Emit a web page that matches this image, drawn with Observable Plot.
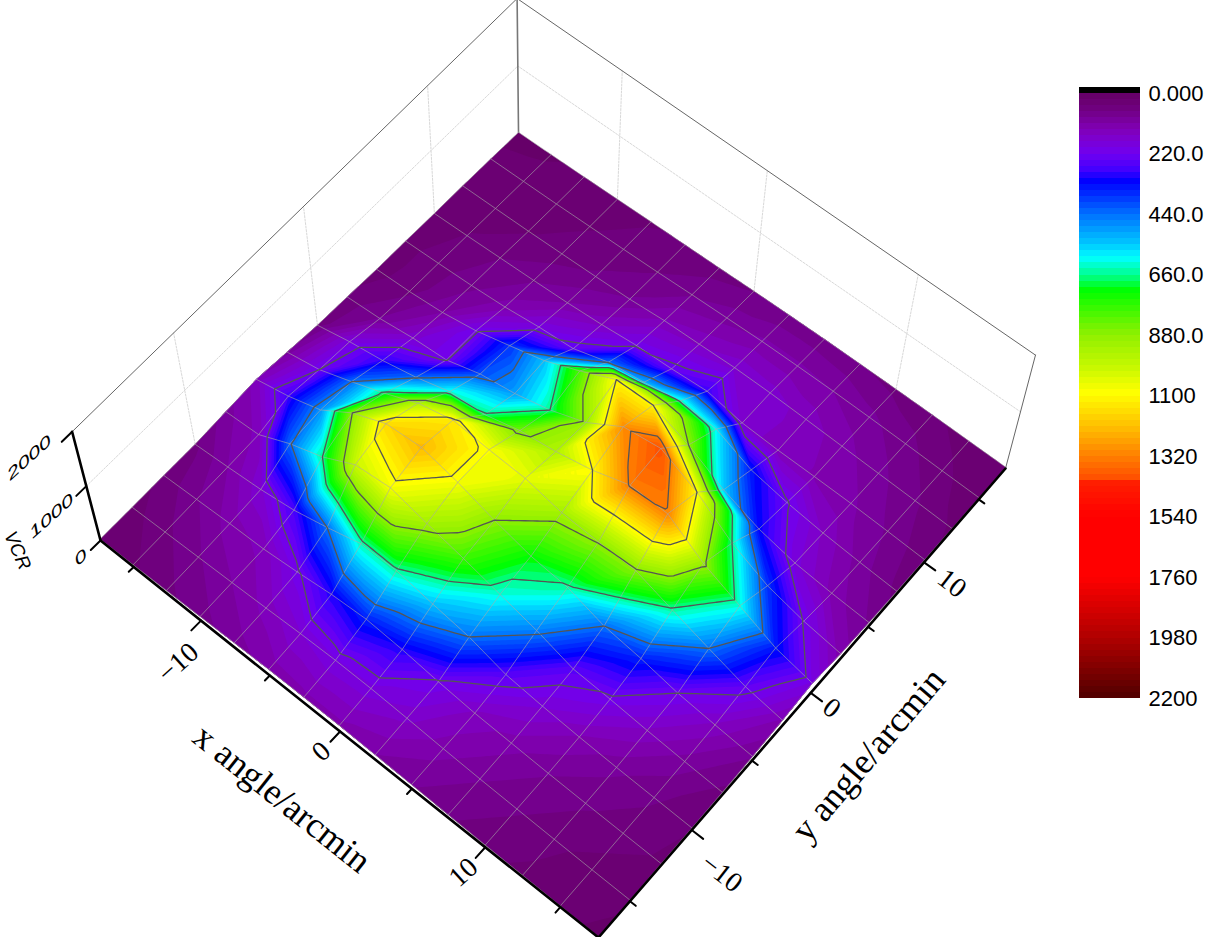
<!DOCTYPE html>
<html><head><meta charset="utf-8">
<script src="https://cdn.jsdelivr.net/npm/d3@7"></script>
<script src="https://cdn.jsdelivr.net/npm/@observablehq/plot@0.6"></script>
<style>
html,body{margin:0;padding:0;background:#fff}
#wrap{position:relative;width:1205px;height:937px;overflow:hidden}
#wrap svg{position:absolute;left:0;top:0;background:transparent}
</style></head><body><div id="wrap"></div>
<script>
// ---------- data: grid of VCR values, one row per y angle, columns along x angle ----------
const xAngles = d3.range(-17.5, 17.6, 2.5);
const yAngles = d3.range(-17.5, 17.6, 2.5);
const rowY00 = [25,40,60,80,100,120,125,125,110,90,70,50,40,28,18];
const rowY01 = [35,60,85,110,140,175,195,190,160,120,90,70,50,35,25];
const rowY02 = [50,85,120,140,210,300,350,300,215,150,120,90,70,55,40];
const rowY03 = [60,110,170,270,440,640,650,540,440,250,180,130,95,70,45];
const rowY04 = [100,140,430,660,1000,1075,920,780,620,460,250,210,150,100,60];
const rowY05 = [140,280,480,880,1160,1220,1075,880,720,650,440,350,220,150,90];
const rowY06 = [100,220,440,680,960,1130,1080,1050,920,885,870,650,440,240,130];
const rowY07 = [60,190,290,430,620,670,850,950,1100,1330,1315,900,620,340,195];
const rowY08 = [50,90,170,215,400,500,660,900,1300,1400,1100,660,370,215,120];
const rowY09 = [35,60,110,210,370,540,800,1100,1110,880,550,320,185,125,85];
const rowY10 = [35,55,80,120,190,240,430,520,640,600,340,225,150,100,60];
const rowY11 = [30,45,65,85,110,150,210,235,280,170,140,130,115,85,50];
const rowY12 = [30,35,42,55,70,90,135,150,170,165,145,120,95,70,40];
const rowY13 = [25,28,32,42,52,65,85,100,115,115,110,95,75,50,30];
const rowY14 = [18,20,26,34,42,48,55,65,70,72,68,60,50,35,22];
const vcr = [rowY00,rowY01,rowY02,rowY03,rowY04,rowY05,rowY06,rowY07,rowY08,rowY09,rowY10,rowY11,rowY12,rowY13,rowY14];

const contourLevels = [220,440,660,880,1100,1320];
const xTicks = [-15,-10,-5,0,5,10,15];
const yTicks = [-15,-10,-5,0,5,10,15];
const zTicks = [0,1000,2000];
const legendTicks = [0,220,440,660,880,1100,1320,1540,1760,1980,2200];
const legendLabels = ["0.000","220.0","440.0","660.0","880.0","1100","1320","1540","1760","1980","2200"];
const colorStops = [0,60,130,170,220,280,320,440,550,600,660,716,880,1000,1090,1210,1320,1400,1410,1540,1760,1980,2200];
const colorValues = ["#640064","#700080","#8000b4","#7c00d0","#7000f0","#4000ff","#0000ff","#0070ff","#00c8ff","#00ffff","#00ff90","#00ff00","#90f000","#c8f800","#ffff00","#ffc000","#ff8000","#ff5000","#ff2000","#ff0000","#ff0000","#b00000","#500000"];
const bandStep = 22;

// ---------- camera: floor homography + lift towards the nadir ----------
const xMin=-17.5,xMax=17.5,yMin=-17.5,yMax=17.5,zMax=2000;
const H={a:454.5,b:461.2,c:100,d:328.9,e:-395.9,f:540,g:-0.07268,h:0.08333};
const nadir=[540,2226], liftK=0.0645;
function project3(x,y,z=0){
  const s=(x-xMin)/(xMax-xMin), t=(y-yMin)/(yMax-yMin);
  const D=H.g*s+H.h*t+1;
  const px=(H.a*s+H.b*t+H.c)/D, py=(H.d*s+H.e*t+H.f)/D;
  const m=1+liftK*z/zMax;
  return [nadir[0]+(px-nadir[0])*m, nadir[1]+(py-nadir[1])*m];
}
const camera=d3.geoTransform({point(x,y,z){const p=project3(x,y,z||0);this.stream.point(p[0],p[1]);}});

// ---------- surface: triangulated grid; high cells split along the ridge, slopes along the closest values ----------
const step=2.5, up=10, M=14*up+1;
function surf(x,y){
  const u=Math.max(0,Math.min(14,(x-xMin)/step)), v=Math.max(0,Math.min(14,(y-yMin)/step));
  const i=Math.min(13,Math.floor(u)), j=Math.min(13,Math.floor(v));
  const a=u-i,b=v-j;
  const v00=vcr[j][i],v10=vcr[j][i+1],v01=vcr[j+1][i],v11=vcr[j+1][i+1];
  const high=Math.max(v00,v10,v01,v11)>=1000;
  const mainDiag=high ? v00+v11>=v10+v01 : Math.abs(v00-v11)<=Math.abs(v10-v01);
  if(mainDiag) return a>=b ? v00+a*(v10-v00)+b*(v11-v10) : v00+b*(v01-v00)+a*(v11-v01);
  return a+b<=1 ? v00+a*(v10-v00)+b*(v01-v00) : v11+(1-a)*(v01-v11)+(1-b)*(v10-v11);
}
const field=new Float64Array(M*M);
for(let r=0;r<M;r++)for(let c=0;c<M;c++)field[r*M+c]=surf(xMin+c*step/up,yMin+r*step/up);
function lift3(coord){
  const x=xMin+Math.max(0,Math.min(M-1,coord[0]-.5))*step/up;
  const y=yMin+Math.max(0,Math.min(M-1,coord[1]-.5))*step/up;
  return [x,y,surf(x,y)];
}
function contoursAt(levels){
  return d3.contours().size([M,M]).thresholds(levels)(field).map(g=>({
    type:"MultiPolygon",value:g.value,
    coordinates:g.coordinates.map(poly=>poly.map(ring=>ring.map(lift3)))
  }));
}
const bandLevels=d3.range(0,2200,bandStep);
const bands=contoursAt(bandLevels);
const isolines=contoursAt(contourLevels);

const line=(...pts)=>({type:"LineString",coordinates:pts});
const gridLines=[
  ...xAngles.map((x,i)=>line(...yAngles.map((y,j)=>[x,y,vcr[j][i]]))),
  ...yAngles.map((y,j)=>line(...xAngles.map((x,i)=>[x,y,vcr[j][i]])))
];
const wallGuides=[
  line([xMin,yMin,1000],[xMin,yMax,1000],[xMax,yMax,1000]),
  ...[-10,0,10].map(y=>line([xMin,y,0],[xMin,y,zMax])),
  ...[-10,0,10].map(x=>line([x,yMax,0],[x,yMax,zMax]))
];
const wallFrame=[
  line([xMin,yMin,zMax],[xMin,yMax,zMax],[xMax,yMax,zMax]),
  line([xMax,yMax,0],[xMax,yMax,zMax])
];
const cornerPost=[line([xMin,yMax,0],[xMin,yMax,zMax])];
const axisLines=[
  line([xMin,yMin,0],[xMax,yMin,0]),
  line([xMax,yMin,0],[xMax,yMax,0]),
  line([xMin,yMin,0],[xMin,yMin,zMax])
];
const isMajor=v=>v%10===0;
const tickLines=[
  ...xTicks.map(x=>line([x,yMin,0],[x,yMin-(isMajor(x)?.75:.38),0])),
  ...yTicks.map(y=>line([xMax,y,0],[xMax+(isMajor(y)?.75:.38),y,0])),
  ...zTicks.map(z=>line([xMin,yMin,z],[xMin,yMin-.75,z]))
];

const colorOpts={type:"linear",domain:colorStops,range:colorValues,interpolate:"rgb",clamp:true};
const serif="Liberation Serif", sans="Liberation Sans";
const base=project3(xMin,yMin,0);

const xLabelMarks=[[-10,"\u221210",-23,42],[0,"0",-19,20],[10,"10",-22,25]].map(([x,t,dx,dy])=>
  Plot.text([x],{x:d=>d,y:()=>yMin,text:()=>t,dx,dy,rotate:-42,fontFamily:serif,fontSize:28,fill:"#000"}));
const yLabelMarks=[[-10,"\u221210",30,43],[0,"0",21,15],[10,"10",28,21]].map(([y,t,dx,dy])=>
  Plot.text([y],{x:()=>xMax,y:d=>d,text:()=>t,dx,dy,rotate:38,fontFamily:serif,fontSize:28,fill:"#000"}));
const zLabelMarks=[[0,"0",-20,17],[1000,"1000",-35,30],[2000,"2000",-43,26]].map(([z,t,dx,dy])=>{
  const p=project3(xMin,yMin,z);
  return Plot.text([z],{x:()=>xMin,y:()=>yMin,text:()=>t,dx:p[0]-base[0]+dx,dy:p[1]-base[1]+dy,rotate:-42,
    fontFamily:sans,fontSize:17,fontStyle:"italic",fill:"#000",className:"ztick"});
});

const main=Plot.plot({
  width:1205,height:937,margin:0,
  projection:camera,
  color:colorOpts,
  marks:[
    Plot.geo(wallGuides,{stroke:"#d8d8d8",strokeWidth:1,strokeDasharray:"2,1.5"}),
    Plot.geo(wallFrame,{stroke:"#666",strokeWidth:1}),
    Plot.geo(cornerPost,{stroke:"#777",strokeWidth:1.6}),
    Plot.geo(bands,{fill:d=>d.value+bandStep/2,stroke:"none"}),
    Plot.geo(gridLines,{stroke:"#a8a8a8",strokeWidth:1,strokeOpacity:.6}),
    Plot.geo(isolines,{stroke:"#555",strokeWidth:1.3,fill:"none"}),
    Plot.geo(axisLines,{stroke:"#000",strokeWidth:2.6}),
    Plot.geo(tickLines,{stroke:"#000",strokeWidth:2}),
    ...xLabelMarks,...yLabelMarks,...zLabelMarks,
    Plot.text(["VCR"],{x:()=>xMin,y:()=>yMin,text:d=>d,dx:-83,dy:10,rotate:66,fontFamily:sans,fontSize:19,fontStyle:"italic",fill:"#000"}),
    Plot.text(["x angle/arcmin"],{x:()=>0,y:()=>yMin,text:d=>d,dx:-58,dy:67,rotate:38.5,fontFamily:serif,fontSize:36,fill:"#000"}),
    Plot.text(["y angle/arcmin"],{x:()=>xMax,y:()=>-2,text:d=>d,dx:81,dy:35,rotate:-49.5,fontFamily:serif,fontSize:36,fill:"#000"})
  ]
});
d3.select(main).selectAll(".ztick text").attr("transform",function(){return this.getAttribute("transform")+" skewX(-15) scale(1.5,.85)";});

const legend=Plot.plot({
  width:1205,height:937,margin:0,
  x:{axis:null,domain:[0,1],range:[1079,1140]},
  y:{axis:null,domain:[-bandStep,2200],range:[87,698]},
  color:colorOpts,
  marks:[
    Plot.rect(bandLevels,{x1:()=>0,x2:()=>1,y1:d=>d,y2:d=>d+bandStep,fill:d=>d+bandStep/2,shapeRendering:"crispEdges"}),
    Plot.rect([-bandStep],{x1:()=>0,x2:()=>1,y1:d=>d,y2:d=>d+bandStep,fill:"#000",shapeRendering:"crispEdges"}),
    Plot.text(legendTicks,{x:()=>1,y:d=>d,text:(d,i)=>legendLabels[i],dx:8,textAnchor:"start",fontFamily:sans,fontSize:22,fill:"#000"})
  ]
});
const wrap=document.getElementById("wrap");
wrap.appendChild(main);wrap.appendChild(legend);
</script></body></html>
